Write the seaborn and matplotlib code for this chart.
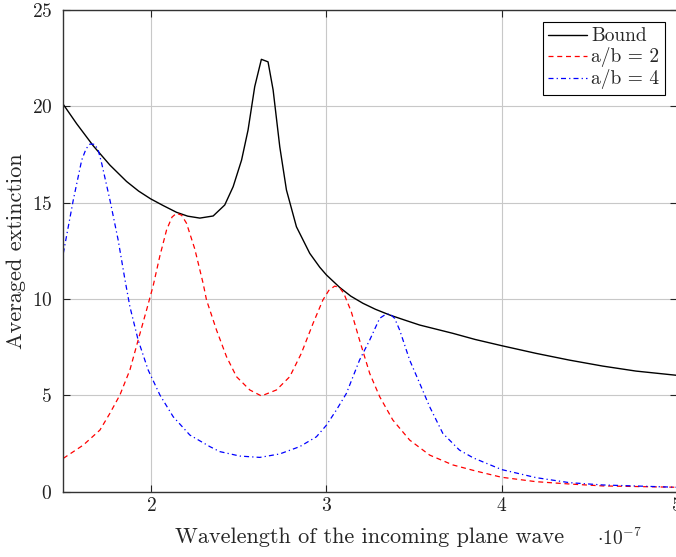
import matplotlib
matplotlib.use("Agg")
import matplotlib.pyplot as plt
import seaborn as sns

# wavelength in units of 1e-7 m
bound_x = [1.5, 1.576, 1.671, 1.766, 1.861, 1.93, 1.998, 2.07, 2.146, 2.21,
           2.279, 2.355, 2.421, 2.469, 2.517, 2.554, 2.592, 2.630, 2.668, 2.697,
           2.735, 2.773, 2.83, 2.906, 2.963, 3.001, 3.077, 3.14, 3.209, 3.28,
           3.362, 3.45, 3.533, 3.722, 3.85, 4.0, 4.197, 4.387, 4.577, 4.767, 5.0]
bound_y = [20.1, 19.1, 17.95, 16.95, 16.1, 15.6, 15.2, 14.85, 14.5, 14.3,
           14.2, 14.31, 14.88, 15.83, 17.21, 18.77, 21.02, 22.44, 22.31, 20.85,
           17.9, 15.66, 13.75, 12.37, 11.65, 11.25, 10.6, 10.15, 9.78, 9.47,
           9.17, 8.9, 8.65, 8.22, 7.9, 7.58, 7.18, 6.83, 6.52, 6.26, 6.04]

ab2_x = [1.5, 1.614, 1.709, 1.766, 1.823, 1.880, 1.927, 1.975, 2.013, 2.05,
         2.089, 2.12, 2.146, 2.175, 2.203, 2.25, 2.298, 2.317, 2.374, 2.431,
         2.488, 2.564, 2.630, 2.716, 2.792, 2.858, 2.925, 2.981, 3.015, 3.048,
         3.075, 3.1, 3.143, 3.19, 3.248, 3.305, 3.38, 3.476, 3.590, 3.722,
         3.85, 4.0, 4.197, 4.387, 4.577, 5.0]
ab2_y = [1.73, 2.42, 3.2, 4.07, 5.02, 6.32, 7.87, 9.43, 10.7, 12.2,
         13.58, 14.25, 14.45, 14.35, 13.93, 12.6, 10.8, 9.95, 8.39, 7.01,
         5.97, 5.28, 4.97, 5.28, 5.97, 7.18, 8.74, 9.95, 10.45, 10.67,
         10.6, 10.3, 9.34, 7.87, 6.14, 4.93, 3.72, 2.68, 1.90, 1.39,
         1.08, 0.75, 0.52, 0.40, 0.30, 0.23]

ab4_x = [1.5, 1.557, 1.605, 1.63, 1.652, 1.68, 1.70, 1.719, 1.766, 1.813,
         1.852, 1.880, 1.927, 1.984, 2.051, 2.127, 2.222, 2.336, 2.393, 2.507,
         2.621, 2.735, 2.849, 2.944, 3.001, 3.058, 3.115, 3.19, 3.248, 3.305,
         3.335, 3.362, 3.39, 3.419, 3.476, 3.533, 3.590, 3.665, 3.76, 3.84,
         4.0, 4.197, 4.387, 4.577, 5.0]
ab4_y = [12.37, 15.14, 17.21, 17.8, 18.04, 18.03, 17.7, 17.04, 15.14, 13.06,
         10.99, 9.6, 7.87, 6.32, 5.02, 3.89, 2.94, 2.34, 2.08, 1.85,
         1.78, 1.96, 2.34, 2.85, 3.45, 4.24, 5.1, 6.83, 7.87, 9.0,
         9.18, 9.24, 9.0, 8.39, 6.83, 5.63, 4.41, 3.03, 2.16, 1.75,
         1.15, 0.73, 0.47, 0.35, 0.23]

x_ticks = [2, 3, 4, 5]
y_ticks = [0, 5, 10, 15, 20, 25]

sns.set_style("ticks")
plt.rcParams["font.family"] = ["cmr10", "DejaVu Serif"]
plt.rcParams["mathtext.fontset"] = "cm"
plt.rcParams["axes.formatter.use_mathtext"] = True

fig = plt.figure(figsize=(6.76, 5.57), dpi=100)
ax = fig.add_axes([63.3 / 676, 65.3 / 557, 613.5 / 676, 481.7 / 557])

sns.lineplot(x=bound_x, y=bound_y, ax=ax, color="black", lw=1.0,
             sort=False, estimator=None, label="Bound")
sns.lineplot(x=ab2_x, y=ab2_y, ax=ax, color="red", lw=0.9,
             sort=False, estimator=None, label="a/b = 2")
ax.lines[-1].set_linestyle((0, (4, 3)))
sns.lineplot(x=ab4_x, y=ab4_y, ax=ax, color="blue", lw=0.9,
             sort=False, estimator=None, label="a/b = 4")
ax.lines[-1].set_linestyle((0, (4, 2.5, 1, 2.5)))

ax.set_xlim(1.5, 5)
ax.set_ylim(0, 25)
ax.set_xticks(x_ticks)
ax.set_yticks(y_ticks)
ax.grid(True, color="#c8c8c8", lw=0.8)
ax.set_axisbelow(True)
for s in ax.spines.values():
    s.set_visible(True)
    s.set_color("#333333")
    s.set_linewidth(1.0)
ax.tick_params(direction="in", length=5, width=0.8, top=True, right=True,
               labelsize=14, colors="#222222")
ax.tick_params(axis="x", pad=4)
ax.tick_params(axis="y", pad=8)

ax.set_xlabel("Wavelength of the incoming plane wave", fontsize=16, labelpad=9)
ax.set_ylabel("Averaged extinction", fontsize=16, labelpad=4)
fig.text(597 / 676, 1 - 538 / 557, r"$\cdot 10^{-7}$", fontsize=14,
         ha="left", va="center")

leg = ax.legend(loc="upper right", fontsize=14, frameon=True, fancybox=False,
                handlelength=2.0, handletextpad=0.2, borderpad=0.3,
                labelspacing=0.1, borderaxespad=0.6)
leg.get_frame().set_edgecolor("black")
leg.get_frame().set_linewidth(0.8)
leg.get_frame().set_alpha(1)

fig.savefig("out.png", dpi=100)
